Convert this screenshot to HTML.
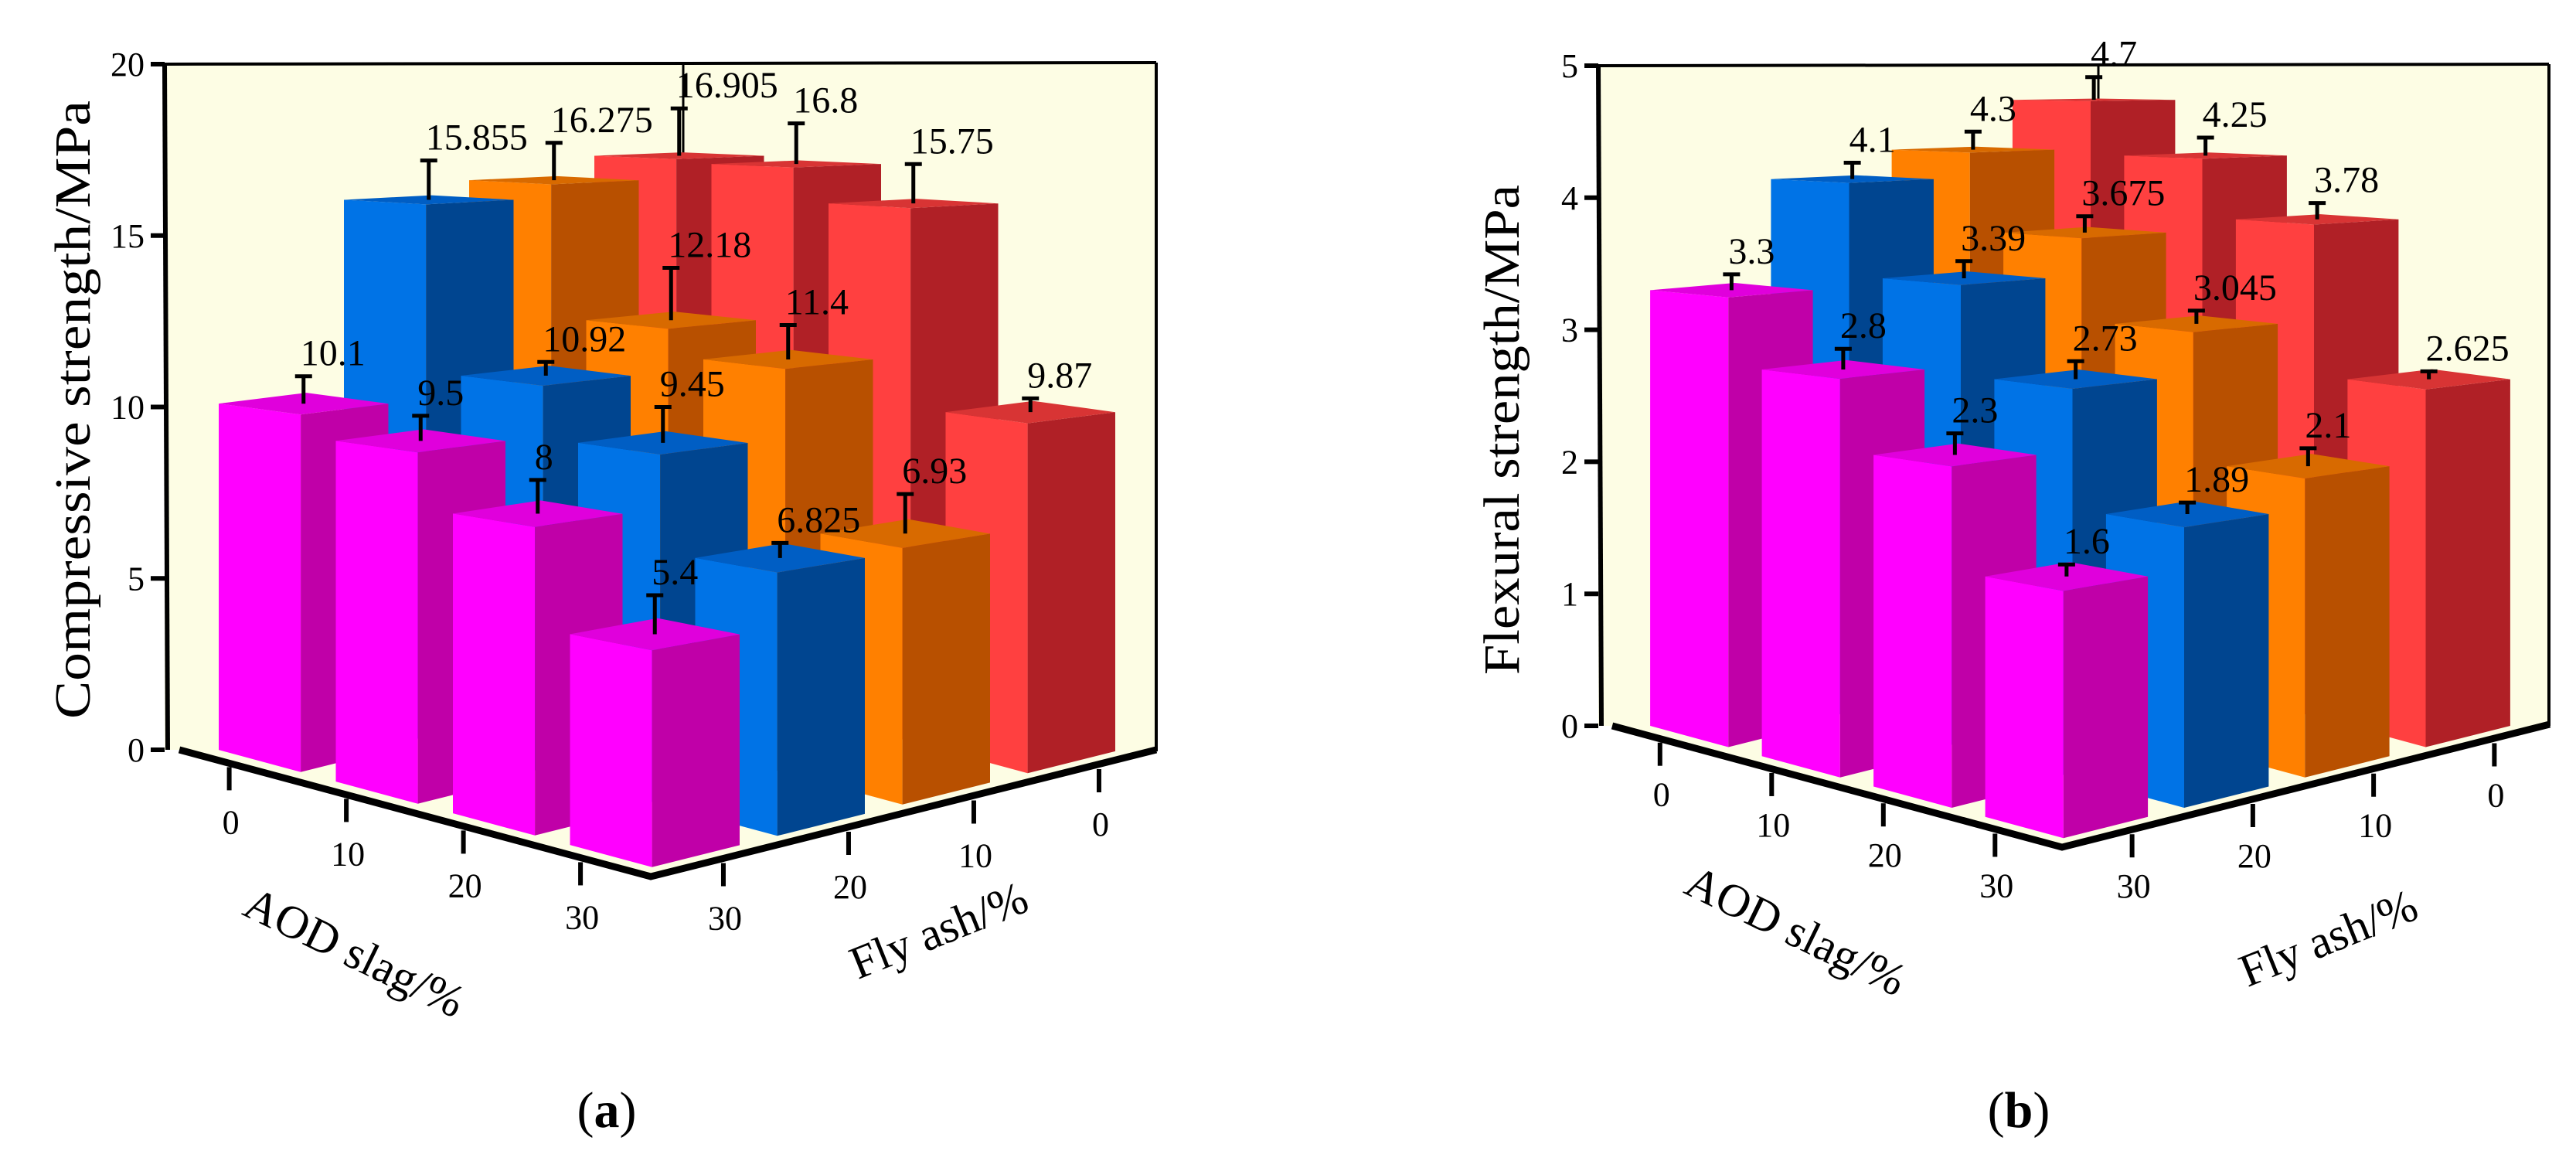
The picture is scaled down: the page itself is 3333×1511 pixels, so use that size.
<!DOCTYPE html>
<html><head><meta charset="utf-8"><style>
html,body{margin:0;padding:0;background:#fff;}
svg{display:block;font-family:"Liberation Serif",serif;}
</style></head>
<body>
<svg id="fig" width="3333" height="1511" viewBox="0 0 3333 1511" xmlns="http://www.w3.org/2000/svg">
<g id="chartA"></g>
<g id="chartB"></g>
<text x="785" y="1458" font-size="66" text-anchor="middle">(<tspan font-weight="bold">a</tspan>)</text>
<text x="2612" y="1458" font-size="66" text-anchor="middle">(<tspan font-weight="bold">b</tspan>)</text>
</svg>
<script>
// ---- data ----
const aodCategories = ["0", "10", "20", "30"];
const flyAshCategories = ["30", "20", "10", "0"];
// Chart (a) compressive strength, rows by fly ash (30,20,10,0), columns AOD 0..30
const compFly30 = [10.1, 9.5, 8, 5.4];
const compFly20 = [15.855, 10.92, 9.45, 6.825];
const compFly10 = [16.275, 12.18, 11.4, 6.93];
const compFly0 = [16.905, 16.8, 15.75, 9.87];
const compErrFly30 = [0.8, 0.7, 0.9, 1.0];
const compErrFly20 = [1.2, 0.4, 1.0, 0.4];
const compErrFly10 = [1.2, 1.6, 1.0, 1.1];
const compErrFly0 = [1.6, 1.3, 1.2, 0.4];
const compTicks = [0, 5, 10, 15, 20];
// Chart (b) flexural strength
const flexFly30 = [3.3, 2.8, 2.3, 1.6];
const flexFly20 = [4.1, 3.39, 2.73, 1.89];
const flexFly10 = [4.3, 3.675, 3.045, 2.1];
const flexFly0 = [4.7, 4.25, 3.78, 2.625];
const flexErrFly30 = [0.12, 0.15, 0.15, 0.08];
const flexErrFly20 = [0.13, 0.13, 0.13, 0.08];
const flexErrFly10 = [0.15, 0.13, 0.1, 0.13];
const flexErrFly0 = [0.2, 0.15, 0.13, 0.06];
const flexTicks = [0, 1, 2, 3, 4, 5];

const NS = "http://www.w3.org/2000/svg";
const colors = [
  {front:"#ff00ff", side:"#c000a8", top:"#e000dc"},
  {front:"#0073e6", side:"#004590", top:"#005ec4"},
  {front:"#ff8000", side:"#b85000", top:"#d86a00"},
  {front:"#ff4040", side:"#b02026", top:"#d83434"}
];
function el(tag, attrs, parent){
  const e = document.createElementNS(NS, tag);
  for (const k in attrs) e.setAttribute(k, attrs[k]);
  parent.appendChild(e);
  return e;
}
function pts(a){ return a.map(p => p[0].toFixed(1)+","+p[1].toFixed(1)).join(" "); }

function drawChart(g, cfg){
  const L = cfg.L, F = cfg.F, R = cfg.R;
  const u = [F[0]-L[0], F[1]-L[1]], v = [R[0]-F[0], R[1]-F[1]];
  const H = cfg.topY, maxV = cfg.maxV;
  // perspective: eye at height maxV, horizon at y=H
  const lift = (p, val) => [p[0], p[1] - val * (p[1] - H) / maxV];
  const w = 0.7;
  const wall = el("polygon", {points: pts([[cfg.axisX, cfg.topY],[cfg.rightX, cfg.topY-2],[cfg.rightX, R[1]],[F[0],F[1]],[L[0],L[1]],[cfg.axisX, L[1]]]), fill:"#fdfde4"}, g);
  
  
  const B = [L[0]+v[0], L[1]+v[1]];
  const corner = el("line", {x1:B[0], y1:cfg.topY, x2:B[0], y2:B[1], stroke:"#000", "stroke-width":3}, g);
  
  
  const topLine = el("line", {x1:cfg.axisX, y1:cfg.topY, x2:cfg.rightX, y2:cfg.topY-2, stroke:"#000", "stroke-width":4}, g);
  
  
  const rightLine = el("line", {x1:cfg.rightX, y1:cfg.topY-2, x2:cfg.rightX, y2:R[1], stroke:"#000", "stroke-width":4}, g);
  
  
  const yAxis = el("line", {x1:cfg.axisX, y1:cfg.topY, x2:cfg.axisX+4, y2:L[1], stroke:"#000", "stroke-width":6}, g);
  
  
  cfg.ticks.forEach(t => {
    const y = L[1] - t * (L[1] - H) / maxV;
    const tk = el("line", {x1:cfg.axisX-18, y1:y, x2:cfg.axisX, y2:y, stroke:"#000", "stroke-width":6}, g);
    
    
    const tl = el("text", {x:cfg.axisX-26, y:y+15, "font-size":44, "text-anchor":"end"}, g);
    tl.textContent = String(t);
    
    
  });
  const yt = el("text", {x:0, y:0, "font-size":66, "text-anchor":"middle", transform:"translate("+cfg.titleX+","+cfg.titleY+") rotate(-90)", textLength:cfg.titleLen, lengthAdjust:"spacingAndGlyphs"}, g);
  yt.textContent = cfg.title;
  
  
  const rows = cfg.rows, errs = cfg.errs;
  const bars = [];
  for (let k = 0; k < 4; k++) for (let i = 0; i < 4; i++) bars.push({i, k, depth:(3-i)+k});
  bars.sort((a,b) => b.depth - a.depth);
  const a = [u[0]*w/4, u[1]*w/4], b = [v[0]*w/4, v[1]*w/4];
  const labels = [];
  bars.forEach(bar => {
    const fi = (bar.i + (1-w)/2)/4, fk = (bar.k + (1-w)/2)/4;
    const P = [L[0] + u[0]*fi + v[0]*fk, L[1] + u[1]*fi + v[1]*fk];
    const val = rows[bar.k][bar.i];
    const c = colors[bar.k];
    const P1 = [P[0]+a[0], P[1]+a[1]], P2 = [P1[0]+b[0], P1[1]+b[1]], P3 = [P[0]+b[0], P[1]+b[1]];
    const up = p => lift(p, val);
    const grp = el("g", {}, g);
    
    
    el("polygon", {points: pts([P, P1, up(P1), up(P)]), fill:c.front}, grp);
    el("polygon", {points: pts([P1, P2, up(P2), up(P1)]), fill:c.side}, grp);
    el("polygon", {points: pts([up(P), up(P1), up(P2), up(P3)]), fill:c.top}, grp);
    const C = [P[0] + (a[0]+b[0])/2, P[1] + (a[1]+b[1])/2];
    const top = lift(C, val), eT = lift(C, val + errs[bar.k][bar.i]);
    const cx = top[0];
    const eb = el("path", {d:"M"+cx+","+top[1]+" V"+eT[1]+" M"+(cx-11)+","+eT[1]+" H"+(cx+11), stroke:"#000", "stroke-width":5, fill:"none"}, grp);
    
    
    labels.push({x:cx-4, y:eT[1]-14, t:String(val)});
  });
  labels.forEach(l => {
    const t = el("text", {x:l.x, y:l.y, "font-size":48}, g);
    t.textContent = l.t;
    
    
  });
  const floor = el("polyline", {points: pts([[L[0]-4,L[1]],F,[R[0]+6,R[1]-2]]), stroke:"#000", "stroke-width":9, fill:"none", "stroke-linejoin":"miter"}, g);
  
  
  aodCategories.forEach((cat, i) => {
    const f = (i + 0.4)/4;
    const x = L[0] + u[0]*f, y = L[1] + u[1]*f;
    const tk = el("line", {x1:x, y1:y+6, x2:x, y2:y+36, stroke:"#000", "stroke-width":6}, g);
    
    
    const tl = el("text", {x:x+2, y:y+cfg.lblOff+16, "font-size":44, "text-anchor":"middle"}, g);
    tl.textContent = cat;
    
    
  });
  flyAshCategories.forEach((cat, k) => {
    const f = (k + 0.58)/4;
    const x = F[0] + v[0]*f, y = F[1] + v[1]*f;
    const tk = el("line", {x1:x, y1:y+6, x2:x, y2:y+36, stroke:"#000", "stroke-width":6}, g);
    
    
    const tl = el("text", {x:x+2, y:y+cfg.lblOff+16, "font-size":44, "text-anchor":"middle"}, g);
    tl.textContent = cat;
    
    
  });
  const at = el("text", {x:0, y:0, "font-size":60, "text-anchor":"middle", transform:"translate("+cfg.aodT[0]+","+cfg.aodT[1]+") rotate(26)"}, g);
  at.textContent = "AOD slag/%";
  
  
  const ft = el("text", {x:0, y:0, "font-size":60, "text-anchor":"middle", transform:"translate("+cfg.flyT[0]+","+cfg.flyT[1]+") rotate(-22)"}, g);
  ft.textContent = "Fly ash/%";
  
  
}

drawChart(document.getElementById("chartA"), {
  L:[236,970], F:[842,1134], R:[1490,972], axisX:213, topY:83, rightX:1496, maxV:20,
  ticks:compTicks, title:"Compressive strength/MPa", titleX:116, titleY:530, titleLen:800,
  rows:[compFly30, compFly20, compFly10, compFly0], errs:[compErrFly30, compErrFly20, compErrFly10, compErrFly0],
  lblOff:76, aodT:[450,1250], flyT:[1222,1222]
});
drawChart(document.getElementById("chartB"), {
  L:[2090,939], F:[2668,1096], R:[3293,939], axisX:2068, topY:85, rightX:3298, maxV:5,
  ticks:flexTicks, title:"Flexural strength/MPa", titleX:1965, titleY:556, titleLen:634,
  rows:[flexFly30, flexFly20, flexFly10, flexFly0], errs:[flexErrFly30, flexErrFly20, flexErrFly10, flexErrFly0],
  lblOff:72, aodT:[2315,1222], flyT:[3020,1232]
});
</script>
</body></html>
